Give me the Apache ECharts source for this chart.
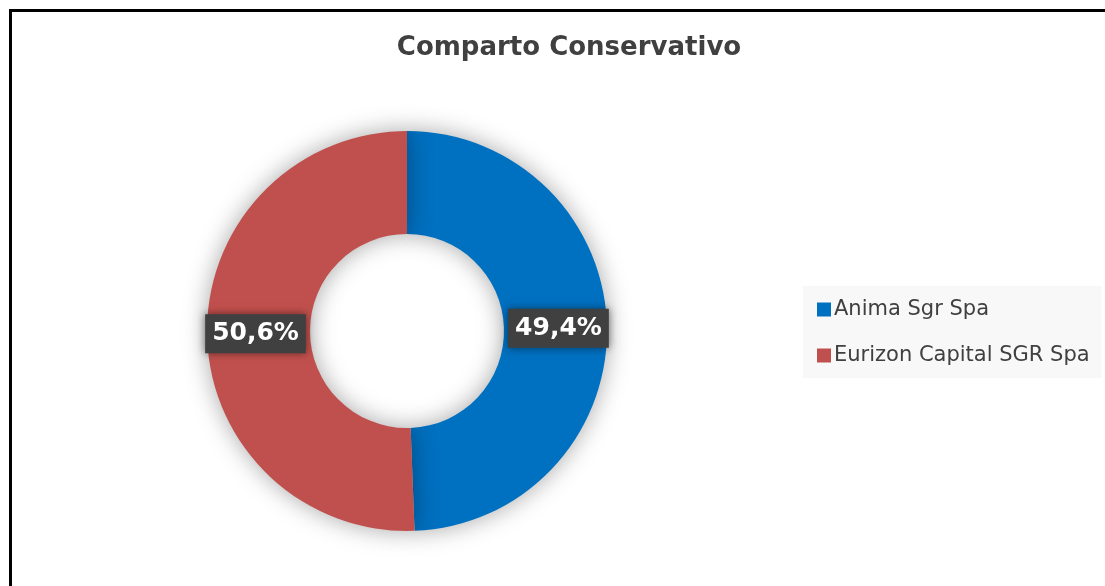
<!DOCTYPE html>
<html><head><meta charset="utf-8">
<script src="https://cdn.jsdelivr.net/npm/echarts@6/dist/echarts.min.js"></script>
<style>html,body{margin:0;padding:0;background:#fff;overflow:hidden}#c{width:1105px;height:586px}</style>
</head><body><div id="c"></div>
<script>
const titleText = 'Comparto Conservativo';
const categories = ['Anima Sgr Spa', 'Eurizon Capital SGR Spa'];
const values = [49.4, 50.6];
const colors = ['#0070C0', '#C0504D'];

const chart = echarts.init(document.getElementById('c'));
chart.setOption({
  animation: false,
  backgroundColor: '#ffffff',
  title: {
    text: titleText, left: 564, top: 30, textAlign: 'center',
    textStyle: {fontFamily: 'DejaVu Sans', fontWeight: 'bold', fontSize: 26, color: '#404040'}
  },
  graphic: [{
    type: 'rect', shape: {x: 10.5, y: 10.5, width: 2000, height: 2000},
    style: {fill: 'none', stroke: '#000', lineWidth: 3}, z: 100
  }],
  legend: {
    orient: 'vertical', left: 803, top: 286,
    backgroundColor: '#f8f8f8', padding: [13, 12, 12, 14],
    itemWidth: 14, itemHeight: 14, itemGap: 25, icon: 'rect',
    textStyle: {fontFamily: 'DejaVu Sans', fontSize: 21, color: '#404040', padding: [0, 0, 0, -2]},
    data: categories
  },
  series: [{
    type: 'pie', center: [407, 331], radius: [97, 200],
    startAngle: 90, clockwise: true,
    itemStyle: {shadowBlur: 25, shadowColor: 'rgba(0,0,0,0.35)'},
    label: {
      show: true, position: 'inside',
      formatter: p => p.value.toFixed(1).replace('.', ',') + '%',
      fontFamily: 'DejaVu Sans', fontWeight: 'bold', fontSize: 25, color: '#ffffff',
      backgroundColor: '#404040', padding: [8, 7, 6, 7],
      shadowBlur: 8, shadowColor: 'rgba(0,0,0,0.5)'
    },
    labelLine: {show: false},
    emphasis: {disabled: true},
    data: categories.map((n, i) => ({name: n, value: values[i], itemStyle: {color: colors[i]}}))
  }]
});
</script></body></html>
